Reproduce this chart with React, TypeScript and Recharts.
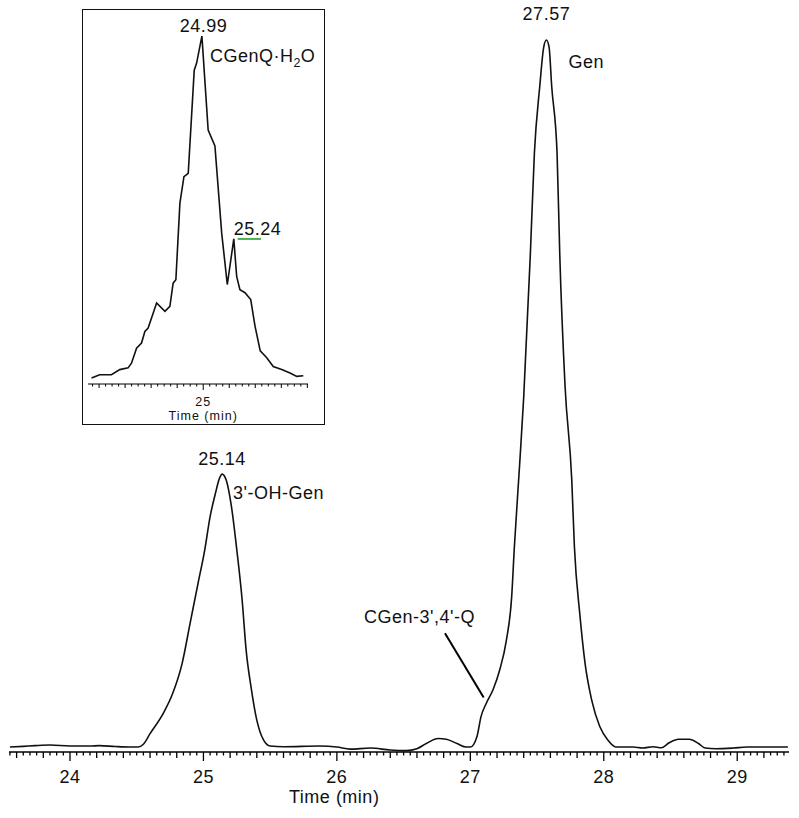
import React from 'react';
import { LineChart, Line, XAxis, YAxis, ReferenceDot, ReferenceLine } from 'recharts';

// main chromatogram (time in min, relative intensity)
const mainTime = [
  23.55, 23.65, 23.74, 23.85, 24.0, 24.15, 24.22, 24.34, 24.45, 24.51,
  24.55, 24.6, 24.7, 24.77, 24.84, 24.9, 24.96, 25.01, 25.05, 25.09,
  25.12, 25.14, 25.17, 25.21, 25.25, 25.29, 25.32, 25.36, 25.4, 25.45,
  25.5, 25.6, 25.87, 26.0, 26.1, 26.25, 26.4, 26.52, 26.6, 26.67,
  26.76, 26.82, 26.9, 26.97, 27.0, 27.05, 27.08, 27.12, 27.17, 27.22,
  27.27, 27.31, 27.33, 27.37, 27.4, 27.45, 27.48, 27.52, 27.55, 27.57,
  27.59, 27.61, 27.65, 27.67, 27.71, 27.76, 27.78, 27.82, 27.86, 27.91,
  27.97, 28.03, 28.09, 28.22, 28.29, 28.37, 28.43, 28.49, 28.56, 28.64,
  28.71, 28.76, 28.84, 28.97, 29.07, 29.22, 29.38,
];
const mainSignal = [
  0.0, 0.1, 0.2, 0.28, 0.14, 0.14, 0.2, 0.07, 0.0, 0.0,
  0.4, 1.9, 4.8, 7.6, 11.8, 17.5, 23.2, 27.9, 32.6, 35.9,
  38.0, 38.6, 37.8, 34.0, 27.9, 20.8, 13.7, 8.1, 3.8, 1.0,
  0.14, 0.05, 0.14, 0.0, -0.3, -0.14, -0.42, -0.5, -0.24, 0.5,
  1.2, 1.1, 0.5, 0.0, 0.0, 1.5, 4.3, 6.2, 8.1, 10.9,
  15.1, 21.3, 28.3, 40.1, 49.5, 69.8, 84, 93.4, 99, 100,
  99, 93.4, 84, 69.8, 51, 37.8, 28.3, 18.9, 11.8, 6.6,
  2.9, 1.0, 0.0, 0.0, -0.14, 0.05, -0.1, 0.6, 1.1, 1.1,
  0.5, -0.14, -0.24, -0.14, 0.0, 0.0, 0.0,
];

// inset chromatogram
const insetTime = [
  24.142, 24.205, 24.295, 24.359, 24.423, 24.449, 24.488, 24.526, 24.552, 24.577,
  24.642, 24.706, 24.744, 24.769, 24.79, 24.821, 24.852, 24.885, 24.931, 24.949,
  24.99, 25.021, 25.038, 25.09, 25.142, 25.185, 25.235, 25.257, 25.282, 25.321,
  25.365, 25.398, 25.438, 25.488, 25.538, 25.603, 25.667, 25.718, 25.769,
];
const insetSignal = [
  -0.5, 0.5, 0.5, 2.0, 2.5, 3.9, 8.3, 9.8, 13.2, 14.2,
  21.6, 19.1, 20.6, 27.4, 28.4, 50.9, 58.7, 59.7, 90.0, 92.0,
  100, 82.2, 72.4, 67.7, 42.1, 27.0, 40.4, 29.4, 25.5, 24.6,
  22.6, 14.8, 7.5, 5.5, 2.9, 2.0, 1.0, 0.0, 0.2,
];

const mainMajorTicks = [24, 25, 26, 27, 28, 29];
const insetMajorTicks = [25];

const mainPeaks = [
  { t: 25.14, v: 38.6, label: '25.14', name: "3'-OH-Gen" },
  { t: 27.57, v: 100, label: '27.57', name: 'Gen' },
];
const shoulder = { t: 27.1, v: 7.0, name: "CGen-3',4'-Q", from: { t: 26.81, v: 16.1 } };

const insetMain = { t: 24.99, v: 100, label: '24.99' };
const insetMinor = { t: 25.235, v: 40.4, label: '25.24', lineTo: 25.444 };

const mainData = mainTime.map((t, i) => ({ t, v: mainSignal[i] }));
const insetData = insetTime.map((t, i) => ({ t, v: insetSignal[i] }));

const FONT = "'Liberation Sans', Arial, sans-serif";
const MAIN_DOMAIN: [number, number] = [23.543, 29.388];
const INSET_DOMAIN: [number, number] = [24.115, 25.805];

const txt = { fontFamily: FONT, fontSize: 18, letterSpacing: 0.5, fill: '#111' };
const smallTxt = { fontFamily: FONT, fontSize: 12.5, letterSpacing: 1, fill: '#111' };

const stepTicks = (from: number, to: number) => {
  const out: number[] = [];
  for (let i = Math.round(from * 20); i <= Math.round(to * 20); i++) out.push(i / 20);
  return out;
};
const mainTicks = stepTicks(23.55, 29.35);
const insetTicks = stepTicks(24.15, 25.8);

const near = (a: number, b: number) => Math.abs(a - b) < 1e-6;

const makeTick = (majors: number[], lens: number[], style: any, labelDy: number, sw: number) =>
  (props: any) => {
    const { x, y, payload } = props;
    const val = payload.value;
    const major = majors.some((m) => near(m, val));
    const mid = !major && near(val * 5, Math.round(val * 5));
    const len = major ? lens[0] : mid ? lens[1] : lens[2];
    return (
      <g>
        <line x1={x} x2={x} y1={y} y2={y + len} stroke="#000" strokeWidth={sw} />
        {major && (
          <text x={x} y={y + labelDy} textAnchor="middle" {...style}>
            {Math.round(val)}
          </text>
        )}
      </g>
    );
  };

const axisTitle = (domain: [number, number], at: number, dy: number, style: any) => (props: any) => {
  const vb = props.viewBox || {};
  const x = vb.x + ((at - domain[0]) / (domain[1] - domain[0])) * vb.width;
  return (
    <text x={x} y={vb.y + dy} textAnchor="middle" {...style}>
      Time (min)
    </text>
  );
};

export default function App() {
  return (
    <div style={{ position: 'absolute', left: 0, top: 0, width: 799, height: 818, background: '#fff' }}>
      <div style={{ position: 'absolute', left: 0, top: 0 }}>
        <LineChart width={799} height={818} data={mainData} margin={{ top: 33, right: 10, bottom: 16, left: 9 }}>
          <XAxis
            dataKey="t"
            type="number"
            domain={MAIN_DOMAIN}
            ticks={mainTicks}
            interval={0}
            height={50}
            tickSize={0}
            tickMargin={0}
            tickLine={false}
            axisLine={{ stroke: '#000', strokeWidth: 1.6 }}
            tick={makeTick(mainMajorTicks, [9, 6, 3.5], txt, 31, 1.3)}
            label={{ content: axisTitle(MAIN_DOMAIN, 25.98, 51, txt) }}
          />
          <YAxis type="number" domain={[-0.7, 101]} hide width={0} />
          <Line
            type="monotone"
            dataKey="v"
            stroke="#111"
            strokeWidth={1.6}
            dot={false}
            isAnimationActive={false}
          />
          {mainPeaks.map((p) => (
            <ReferenceDot
              key={p.label}
              x={p.t}
              y={p.v}
              r={0}
              ifOverflow="visible"
              shape={(s: any) => (
                <g>
                  <text x={s.cx} y={s.cy - (p.v > 50 ? 20 : 9)} textAnchor="middle" {...txt}>{p.label}</text>
                  <text x={s.cx + (p.v > 50 ? 22 : 11)} y={s.cy + (p.v > 50 ? 28 : 25)} {...txt}>{p.name}</text>
                </g>
              )}
            />
          ))}
          <ReferenceLine
            segment={[{ x: shoulder.from.t, y: shoulder.from.v }, { x: shoulder.t, y: shoulder.v }]}
            stroke="#000"
            strokeWidth={2}
            ifOverflow="visible"
          />
          <ReferenceDot
            x={shoulder.from.t}
            y={shoulder.from.v}
            r={0}
            ifOverflow="visible"
            shape={(s: any) => (
              <text x={s.cx + 30} y={s.cy - 10} textAnchor="end" {...txt}>
                {shoulder.name}
              </text>
            )}
          />
        </LineChart>
      </div>

      <div
        style={{
          position: 'absolute',
          left: 82,
          top: 9,
          width: 243,
          height: 416,
          boxSizing: 'border-box',
          border: '1.6px solid #111',
          background: '#fff',
        }}
      />
      <div style={{ position: 'absolute', left: 82, top: 9 }}>
        <LineChart width={243} height={416} data={insetData} margin={{ top: 21, right: 17, bottom: 11, left: 6 }}>
          <XAxis
            dataKey="t"
            type="number"
            domain={INSET_DOMAIN}
            ticks={insetTicks}
            interval={0}
            height={30}
            tickSize={0}
            tickMargin={0}
            tickLine={false}
            axisLine={{ stroke: '#000', strokeWidth: 1.2 }}
            tick={makeTick(insetMajorTicks, [6, 4, 2.5], smallTxt, 22, 1)}
            label={{ content: axisTitle(INSET_DOMAIN, 25.0, 36, smallTxt) }}
          />
          <YAxis type="number" domain={[-2.23, 101.8]} hide width={0} />
          <Line
            type="linear"
            dataKey="v"
            stroke="#111"
            strokeWidth={1.6}
            dot={false}
            isAnimationActive={false}
          />
          <ReferenceLine
            segment={[{ x: insetMinor.t + 0.03, y: insetMinor.v }, { x: insetMinor.lineTo, y: insetMinor.v }]}
            stroke="#4caf50"
            strokeWidth={2}
            ifOverflow="visible"
          />
          <ReferenceDot
            x={insetMain.t}
            y={insetMain.v}
            r={0}
            ifOverflow="visible"
            shape={(s: any) => (
              <g>
                <text x={s.cx + 1.5} y={s.cy - 4} textAnchor="middle" {...txt}>{insetMain.label}</text>
                <text x={s.cx + 8} y={s.cy + 26} {...txt}>
                  <tspan>CGenQ·H</tspan>
                  <tspan fontSize={12.5} dy={5}>2</tspan>
                  <tspan dy={-5}>O</tspan>
                </text>
              </g>
            )}
          />
          <ReferenceDot
            x={insetMinor.t}
            y={insetMinor.v}
            r={0}
            ifOverflow="visible"
            shape={(s: any) => (
              <text x={s.cx} y={s.cy - 4} {...txt}>
                {insetMinor.label}
              </text>
            )}
          />
        </LineChart>
      </div>
    </div>
  );
}
